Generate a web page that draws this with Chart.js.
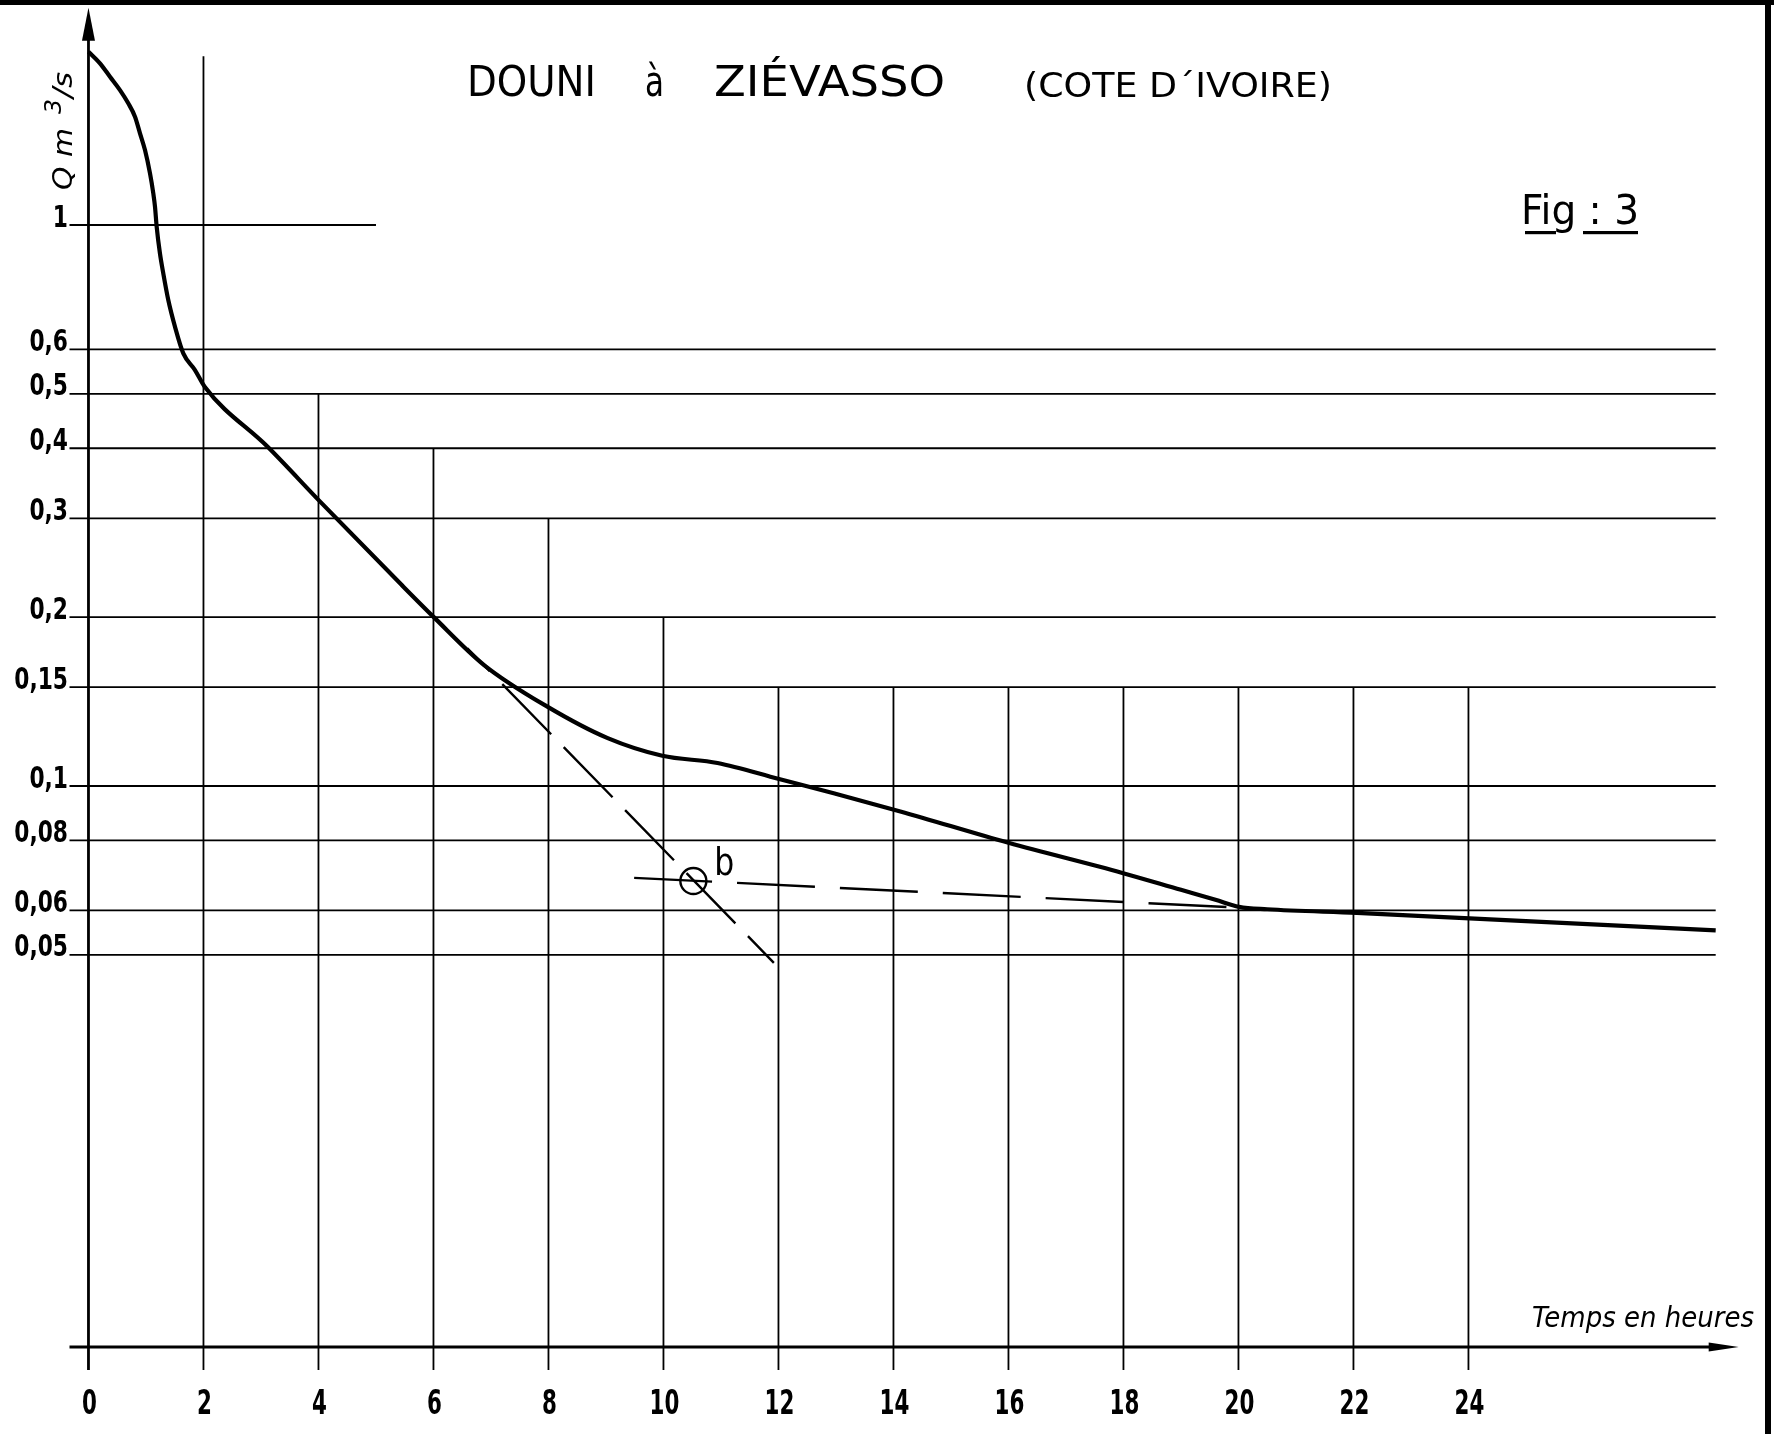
<!DOCTYPE html>
<html>
<head>
<meta charset="utf-8">
<title>Douni à Ziévasso - Fig 3</title>
<script src="https://cdn.jsdelivr.net/npm/chart.js@4.4.1/dist/chart.umd.min.js"></script>
<style>
  html, body { margin: 0; padding: 0; background: #fff; }
  canvas { display: block; }
</style>
</head>
<body>
<canvas id="chart" width="1774" height="1434"></canvas>
<script>
// recession curve: time in hours, Q in m3/s
const hours = [0, 0.2, 0.374, 0.548, 0.692, 0.809, 0.896, 0.983, 1.07, 1.127, 1.157, 1.186, 1.243, 1.301, 1.388, 1.504, 1.649, 1.852, 2.021,
    3.12, 4.02, 5.44, 6.01, 6.88, 7.98, 9.03, 9.98, 10.94, 12.01, 12.96, 14.12, 16.0, 17.98, 19.0, 19.6, 20.01, 20.5, 22.06, 24.02, 28.3];
const discharge = [2.036, 1.942, 1.838, 1.74, 1.648, 1.56, 1.457, 1.36, 1.236, 1.139, 1.078, 0.993, 0.89, 0.82, 0.735, 0.659, 0.5905, 0.5515, 0.515,
    0.402, 0.322, 0.2286, 0.1998, 0.1643, 0.1385, 0.1217, 0.1132, 0.1099, 0.1029, 0.0971, 0.0901, 0.0792, 0.0700, 0.0653, 0.0627, 0.0609, 0.0603, 0.0594, 0.0581, 0.0553];

// the two dashed construction lines and their crossing point b
const steepHours = [6.59, 11.92];
const steepQ = [0.176, 0.0484];
const flatHours = [9.49, 20.0];
const flatQ = [0.0686, 0.0607];
const pointBHours = [10.52];
const pointBQ = [0.0677];

// axes
const xTicks = [0, 2, 4, 6, 8, 10, 12, 14, 16, 18, 20, 22, 24];
const yTicks = [1, 0.6, 0.5, 0.4, 0.3, 0.2, 0.15, 0.1, 0.08, 0.06, 0.05];

// hand drawn grid: where each horizontal line stops, where each vertical starts
const hLineEnd = [5, 28.3, 28.3, 28.3, 28.3, 28.3, 28.3, 28.3, 28.3, 28.3, 28.3];
const vLineHours = [2, 4, 6, 8, 10, 12, 14, 16, 18, 20, 22, 24];
const vLineTop = [2.0, 0.5, 0.4, 0.3, 0.2, 0.15, 0.15, 0.15, 0.15, 0.15, 0.15, 0.15];

const X_MIN = -0.33, X_MAX = 28.7;
const Y_MIN = 0.01, Y_MAX = 2.282;
const Y_ARROW_TIP = 2.44;
const TICK_BOTTOM = 0.0091;

const labelFont = '"DejaVu Sans Condensed", "DejaVu Sans", sans-serif';

function fitText(ctx, text, x, y, width) {
    const w = ctx.measureText(text).width;
    ctx.save();
    ctx.translate(x, y);
    ctx.scale(width / w, 1);
    ctx.fillText(text, 0, 0);
    ctx.restore();
}

function squeezeText(ctx, text, x, y, sx) {
    ctx.save();
    ctx.translate(x, y);
    ctx.scale(sx, 1);
    ctx.fillText(text, 0, 0);
    ctx.restore();
}

const drafting = {
    id: "drafting",
    beforeDatasetsDraw(chart) {
        const { ctx, scales: { x, y } } = chart;
        ctx.save();
        ctx.strokeStyle = "#000";
        ctx.lineCap = "butt";

        ctx.lineWidth = 1.8;
        ctx.beginPath();
        yTicks.forEach((q, i) => {
            const py = y.getPixelForValue(q);
            ctx.moveTo(x.getPixelForValue(X_MIN), py);
            ctx.lineTo(x.getPixelForValue(hLineEnd[i]), py);
        });
        vLineHours.forEach((h, i) => {
            const px = x.getPixelForValue(h);
            ctx.moveTo(px, y.getPixelForValue(vLineTop[i]));
            ctx.lineTo(px, y.getPixelForValue(TICK_BOTTOM));
        });
        ctx.stroke();

        // axes with drafting arrows
        const x0 = x.getPixelForValue(0);
        const yBase = y.getPixelForValue(Y_MIN);
        const yTip = y.getPixelForValue(Y_ARROW_TIP);
        const xTip = x.getPixelForValue(X_MAX);
        ctx.lineWidth = 2.8;
        ctx.beginPath();
        ctx.moveTo(x0, y.getPixelForValue(TICK_BOTTOM));
        ctx.lineTo(x0, yTip + 20);
        ctx.moveTo(x.getPixelForValue(X_MIN), yBase);
        ctx.lineTo(xTip - 20, yBase);
        ctx.stroke();

        ctx.fillStyle = "#000";
        ctx.beginPath();
        ctx.moveTo(x0, yTip);
        ctx.lineTo(x0 - 6.5, yTip + 33);
        ctx.lineTo(x0 + 6.5, yTip + 33);
        ctx.closePath();
        ctx.fill();
        ctx.beginPath();
        ctx.moveTo(xTip, yBase);
        ctx.lineTo(xTip - 30, yBase - 4.5);
        ctx.lineTo(xTip - 30, yBase + 4.5);
        ctx.closePath();
        ctx.fill();

        // tick labels, narrow stencil lettering
        ctx.textBaseline = "alphabetic";
        ctx.font = "bold 34px " + labelFont;
        ctx.textAlign = "center";
        x.ticks.forEach(t => {
            squeezeText(ctx, String(t.label ?? t.value), x.getPixelForValue(t.value) + 1, yBase + 67, 0.7);
        });
        ctx.font = "bold 31px " + labelFont;
        ctx.textAlign = "right";
        y.ticks.forEach(t => {
            const txt = String(t.label ?? String(t.value).replace(".", ","));
            squeezeText(ctx, txt, x.getPixelForValue(X_MIN) - 1.5, y.getPixelForValue(t.value) + 1.5, 0.78);
        });
        ctx.restore();
    },
    afterDraw(chart) {
        const { ctx } = chart;
        ctx.save();
        ctx.fillStyle = "#000";
        ctx.textAlign = "left";
        ctx.textBaseline = "alphabetic";

        // title
        ctx.font = '42px "DejaVu Sans"';
        fitText(ctx, "DOUNI", 467, 95.5, 129);
        fitText(ctx, "à", 645, 95.5, 19);
        fitText(ctx, "ZIÉVASSO", 714, 95.5, 231);
        ctx.font = '34px "DejaVu Sans"';
        fitText(ctx, "(COTE D´IVOIRE)", 1024, 96.5, 308);

        // figure number
        ctx.font = '41px "DejaVu Sans"';
        fitText(ctx, "Fig : 3", 1521, 223.5, 118);
        ctx.fillRect(1525, 231, 31, 3.2);
        ctx.fillRect(1583, 231, 55, 3.2);

        // unit of the vertical axis, written upwards
        ctx.save();
        ctx.translate(72, 190);
        ctx.rotate(-Math.PI / 2);
        ctx.font = 'italic 26px "DejaVu Sans"';
        fitText(ctx, "Q m", 0, 0, 62);
        ctx.font = 'italic 23px "DejaVu Sans"';
        fitText(ctx, "3", 76, -11, 15);
        ctx.font = 'italic 26px "DejaVu Sans"';
        fitText(ctx, "/s", 92, 0, 26);
        ctx.restore();

        ctx.font = 'italic 28px "DejaVu Sans Condensed", "DejaVu Sans"';
        fitText(ctx, "Temps en heures", 1532, 1327, 222);

        // label of point b
        const b = chart.getDatasetMeta(3).data[0];
        ctx.font = '37px "DejaVu Sans"';
        fitText(ctx, "b", b.x + 21, b.y - 6.5, 20);

        // frame of the plate
        ctx.fillRect(0, 0, 1774, 5);
        ctx.fillRect(1765, 0, 6, 1434);
        ctx.restore();
    }
};

const ctx = document.getElementById("chart").getContext("2d");
new Chart(ctx, {
    type: "line",
    data: {
        datasets: [
            {
                data: hours.map((h, i) => ({ x: h, y: discharge[i] })),
                borderColor: "#000", borderWidth: 4.2,
                cubicInterpolationMode: "monotone", pointRadius: 0
            },
            {
                data: steepHours.map((h, i) => ({ x: h, y: steepQ[i] })),
                borderColor: "#000", borderWidth: 2.4,
                borderDash: [70, 18], borderDashOffset: 38, pointRadius: 0
            },
            {
                data: flatHours.map((h, i) => ({ x: h, y: flatQ[i] })),
                borderColor: "#000", borderWidth: 2.4,
                borderDash: [78, 25], pointRadius: 0
            },
            {
                type: "scatter",
                data: pointBHours.map((h, i) => ({ x: h, y: pointBQ[i] })),
                borderColor: "#000", borderWidth: 2.4, backgroundColor: "rgba(0,0,0,0)",
                pointStyle: "circle", pointRadius: 13, showLine: false
            }
        ]
    },
    options: {
        responsive: false,
        animation: false,
        devicePixelRatio: 1,
        layout: { padding: { top: 24, right: 35.3, bottom: 0, left: 0 } },
        plugins: { legend: { display: false }, tooltip: { enabled: false } },
        scales: {
            x: {
                type: "linear", min: X_MIN, max: X_MAX, bounds: "data",
                grid: { display: false, drawTicks: false }, border: { display: false },
                afterBuildTicks: (scale) => { scale.ticks = xTicks.map(v => ({ value: v })); },
                afterFit: (scale) => { scale.height = 87; },
                ticks: { display: false, autoSkip: false, callback: (v) => String(v) }
            },
            y: {
                type: "logarithmic", min: Y_MIN, max: Y_MAX, bounds: "data",
                grid: { display: false, drawTicks: false }, border: { display: false },
                afterBuildTicks: (scale) => { scale.ticks = yTicks.map(v => ({ value: v })); },
                afterFit: (scale) => { scale.width = 69.5; },
                ticks: { display: false, autoSkip: false, callback: (v) => String(v).replace(".", ",") }
            }
        }
    },
    plugins: [drafting]
});
</script>
</body>
</html>
